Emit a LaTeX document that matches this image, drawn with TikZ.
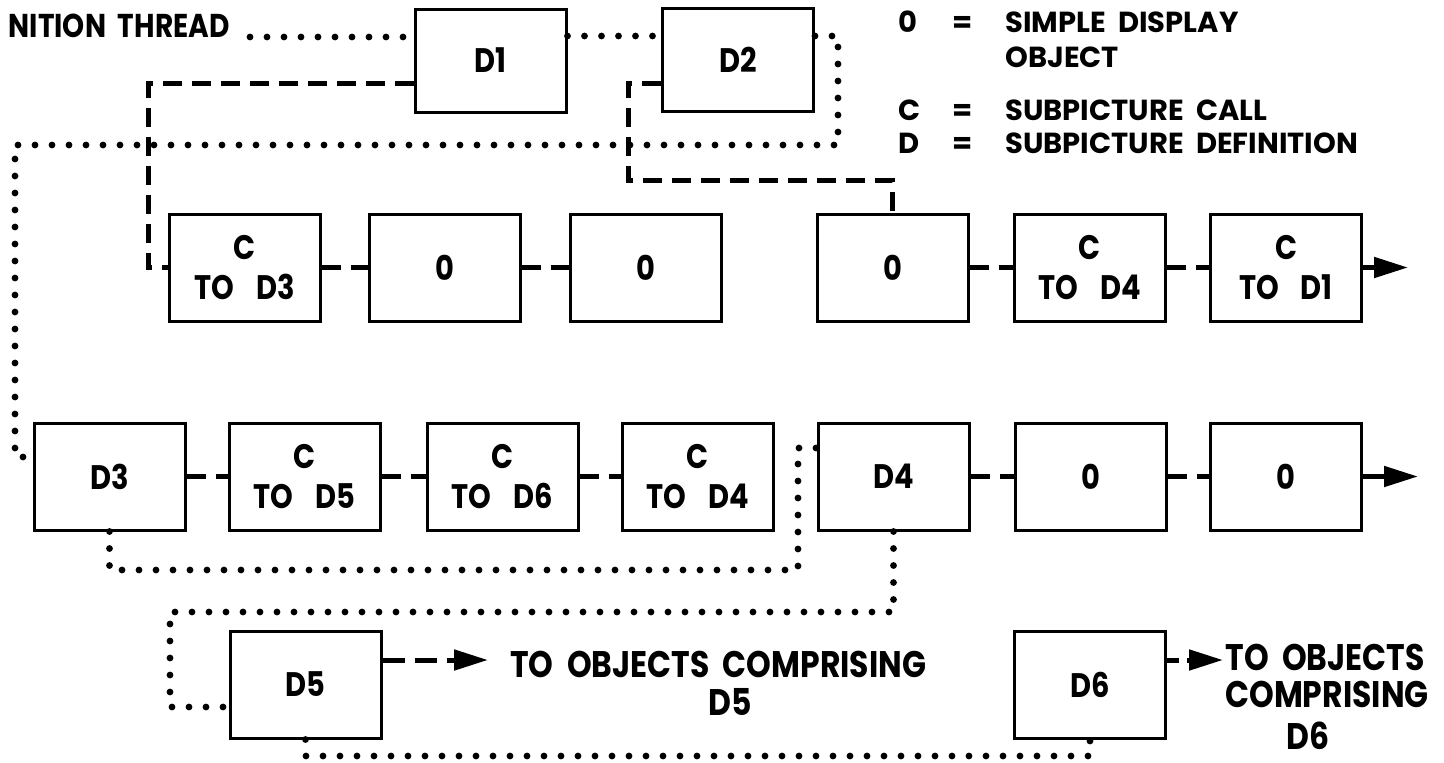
\documentclass[tikz,border=0pt]{standalone}
\usepackage{fontspec}
\setmainfont{Poppins}[WordSpace=2]
\newfontfamily\nar{Poppins}[FakeStretch=0.85, WordSpace=2]
\usetikzlibrary{arrows.meta}
\tikzset{
  box/.style={draw, line width=1.5pt, minimum width=75.5pt, minimum height=53.5pt, inner sep=0pt, align=center, font=\nar\bfseries\fontsize{17}{20}\selectfont},
  dbox/.style={box, minimum height=51.5pt},
  dots/.style={line width=3.4pt, line cap=round, dash pattern=on 0pt off 8.5pt},
  dashes/.style={line width=2.5pt, dash pattern=on 9.5pt off 5pt},
  arr/.style={line width=2.5pt, -{Triangle[length=17pt,width=10pt]}},
  lgd/.style={font=\bfseries\fontsize{14.5}{17}\selectfont, inner sep=0pt, anchor=base west},
  big/.style={font=\nar\bfseries\fontsize{18.5}{20}\selectfont, inner sep=0pt},
  thr/.style={font=\nar\bfseries\fontsize{16.5}{18}\selectfont, inner sep=0pt},
}
\newcommand\tsp{\hspace{11pt}}
\begin{document}
\begin{tikzpicture}[x=0.5pt,y=-0.5pt]
\useasboundingbox (0,0) rectangle (1444,762);
% coordinates
\coordinate (ty) at (0,36);
\coordinate (dy) at (0,83);
\coordinate (k1) at (838,145);
\coordinate (k2) at (15,145);
\coordinate (k3) at (0,457);
\coordinate (m1) at (148,83);
\coordinate (m2) at (628,180);
\coordinate (n1) at (798,570);
\coordinate (n2) at (0,448);
\coordinate (p1) at (170,612);
\coordinate (p2) at (0,707);
\coordinate (q1) at (0,756);
\coordinate (e2) at (1408,267.5);
\coordinate (e3) at (1418,476.5);
\coordinate (r) at (0,660);
\coordinate (e5) at (488,660);
\coordinate (e6) at (1223,660);
% boxes
\node[dbox] (D1) at (490.5,60.5) {D1};
\node[dbox] (D2) at (738,59.5) {D2};
\node[box] (b21) at (245,267.5) {C\\TO\tsp D3};
\node[box] (b22) at (444.5,267.5) {0};
\node[box] (b23) at (646,267.5) {0};
\node[box] (b24) at (892.5,267.5) {0};
\node[box] (b25) at (1089.5,267.5) {C\\TO\tsp D4};
\node[box] (b26) at (1286,267.5) {C\\TO\tsp D1};
\node[box] (D3) at (109.5,476.5) {D3};
\node[box] (b32) at (304.5,476.5) {C\\TO\tsp D5};
\node[box] (b33) at (502.5,476.5) {C\\TO\tsp D6};
\node[box] (b34) at (698,476.5) {C\\TO\tsp D4};
\node[box] (D4) at (893.5,476.5) {D4};
\node[box] (b36) at (1090.5,476.5) {0};
\node[box] (b37) at (1286,476.5) {0};
\node[box] (D5) at (305.5,684.5) {D5};
\node[box] (D6) at (1090,684.5) {D6};
% texts
\node[thr, anchor=base east] (thread) at (230,37) {NITION THREAD};
\node[lgd] (l0) at (898,32) {0};
\node[lgd] (le0) at (952,32) {=};
\node[lgd] (lt0) at (1005,32) {SIMPLE DISPLAY};
\node[lgd] (lt0b) at (1005,67) {OBJECT};
\node[lgd] (lc) at (898,120) {C};
\node[lgd] (lec) at (952,120) {=};
\node[lgd] (ltc) at (1005,120) {SUBPICTURE CALL};
\node[lgd] (ld) at (898,153) {D};
\node[lgd] (led) at (952,153) {=};
\node[lgd] (ltd) at (1005,153) {SUBPICTURE DEFINITION};
\node[big, anchor=base west] (o5a) at (510,677) {TO OBJECTS COMPRISING};
\node[big, anchor=base] (o5b) at (730,715) {D5};
\node[big, anchor=base west] (o6a) at (1225,670) {TO OBJECTS};
\node[big, anchor=base] (o6b) at (1327,707) {COMPRISING};
\node[big, anchor=base] (o6c) at (1308,749) {D6};
% dotted definition thread
\draw[dots] ([xshift=10pt]thread.base east) -- (D1.west |- thread.base east);
\draw[dots] (D1.east |- ty) -- (D2.west |- ty);
\draw[dots] (D2.east |- ty) -| (k1) -- (k2) |- (D3.west |- k3);
\draw[dots] (D3.south) |- (n1) |- (D4.west |- n2);
\draw[dots] (D4.south) |- (p1) |- (D5.west |- p2);
\draw[dots] (D5.south) |- (D6.south |- q1) -- (D6.south);
% dashed subpicture links
\draw[dashes] (D1.west |- dy) -- (m1) |- (b21.west);
\draw[dashes] (D2.west |- dy) -| (m2) -| (b24.north);
\draw[dashes] (b21) -- (b22);
\draw[dashes] (b22) -- (b23);
\draw[dashes] (b24) -- (b25);
\draw[dashes] (b25) -- (b26);
\draw[arr] (b26.east) -- (e2);
\draw[dashes] (D3) -- (b32);
\draw[dashes] (b32) -- (b33);
\draw[dashes] (b33) -- (b34);
\draw[dashes] (D4) -- (b36);
\draw[dashes] (b36) -- (b37);
\draw[arr] (b37.east) -- (e3);
\draw[arr, dash pattern=on 11pt off 5pt] (D5.east |- r) -- (e5);
\draw[arr, dash pattern=on 6pt off 4pt] (D6.east |- r) -- (e6);
\end{tikzpicture}
\end{document}
